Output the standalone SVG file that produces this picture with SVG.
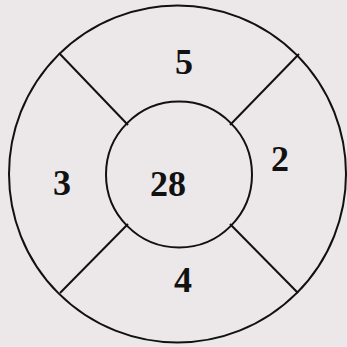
<svg xmlns="http://www.w3.org/2000/svg" width="347" height="347" viewBox="0 0 347 347">
<style>
.s{fill:none;stroke:#111;stroke-width:2}
.t{font-family:"Liberation Serif","Times New Roman",serif;font-weight:bold;font-size:36px;fill:#111;text-anchor:middle}
</style>
<rect width="347" height="347" fill="#ece8ea"/>
<g id="outer"><circle class="s" cx="177.5" cy="174" r="168.5"/></g>
<g id="inner"><circle class="s" cx="179" cy="174.5" r="73"/><text class="t" x="168" y="196">28</text></g>
<g id="connectors">
<line class="s" x1="59" y1="53" x2="128" y2="125"/>
<line class="s" x1="299" y1="54" x2="230" y2="125"/>
<line class="s" x1="128" y1="224" x2="60" y2="293"/>
<line class="s" x1="230" y1="224" x2="298" y2="293"/>
</g>
<g id="top"><text class="t" x="184" y="74">5</text></g>
<g id="left"><text class="t" x="62" y="195">3</text></g>
<g id="right"><text class="t" x="280" y="171">2</text></g>
<g id="bottom"><text class="t" x="183" y="292">4</text></g>
</svg>
